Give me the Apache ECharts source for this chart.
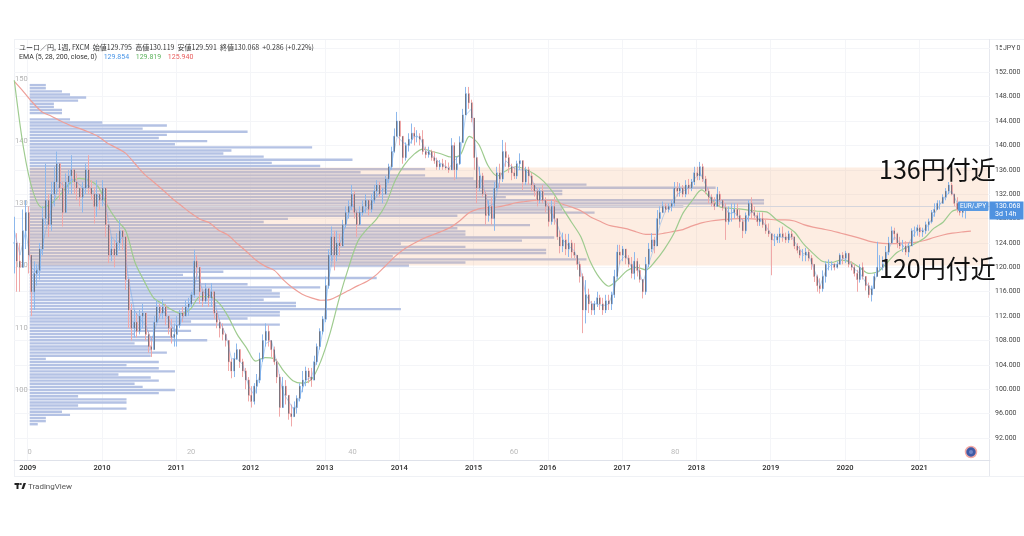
<!DOCTYPE html>
<html>
<head>
<meta charset="utf-8">
<style>html,body{margin:0;padding:0;background:#fff}#chart{width:1024px;height:536px}#chart canvas{filter:blur(0.45px)}</style>
<script src="https://cdn.jsdelivr.net/npm/echarts@6/dist/echarts.min.js"></script>
</head>
<body>
<div id="chart"></div>
<script>
// candle readings, one every two weeks from late 2008
const candleStart = 2008.82;
const candlesPerYear = 26;
const closes = [124,121,120,126,129,122,116,119,119.5,123,
128,131,127,132,134,137,133,129,134,135,
136,134,133,131.5,133,136,133,132,130,132,
131,133,127,122,123,122,124,126,125,118,
113,110,111,109.5,112,112.5,109,107,106.5,111,
113.5,112.5,113.5,112,110,108.5,109,110.5,112.5,112,
113.5,114,115.5,121,120,116,114.5,116.5,115,116,
112.5,111,110,109,108,104.5,103,105,106.5,104.5,
103,101.5,99,98,100.5,101.5,105,108,109.5,108,
106.5,104.5,102,97,100.5,99,96,95.5,97,98.5,
100.5,101.5,103,102,101.5,104.5,107,109.5,111.5,117,
122,125,122,124,123.5,127,129,130,132,129,
127,129,130,131,129.5,131,132.5,133.5,132,132,
134.5,136.5,139,141.5,144,141.5,138,140,141,142,
141.5,141.5,141,139,138.5,139,138,137.5,136.5,137,
136.5,136.3,136,140,136,137,140.5,145,148.5,147,
144.5,138,133,135,132,128.5,130,128,133,135.5,
134.5,139,138,136.5,135.5,135,137,137.5,134,136,
135,133.5,132.5,131,132.5,131,130,127.5,130,128,
125,123.5,124.5,123,124,122.5,122,120.5,118.5,113,
115.5,114,113,114,115,114,113,114.5,114,115.5,
118.5,122.5,122,123,121.5,120.5,119,121,119.5,118,
116,120.5,123,124.5,123.5,128,129,130,129.5,130,
130.5,133,132.5,133,132,133.5,133,134,135.5,135,
136.5,134.5,132.5,131.5,130.5,130,132,131,129.8,127.5,
129,129,129.5,128.5,127.5,126,128.5,130.5,129,128.5,
127.5,128,127,126,125.5,124.5,124.5,125,125.5,125,
124.5,125.5,125,123.5,122.8,122,122,122.5,121.5,120.5,
118.5,117,116.5,118.5,120.5,120.5,120.5,120,120.5,122,
121.5,122.3,120.5,120,119,118,120,118.5,117,115.5,
116.5,118.5,120,120,120.5,122.5,124,126,125.5,124,
123.5,123.5,122.5,123.5,126,126,126.5,125.8,126,127,
127.5,129,129.5,130.5,130.5,131.5,132.5,133.5,132,130.5,
129.5,129,129.5,129.8,130.07];
const highs = [128.3,125.6,124,129.5,131,130,122,121,120.5,124,
130,137,132,134,136.5,139,137,134,135.4,136,
138.4,135.4,135.4,133,134,137,138.4,134.3,133.2,134.3,
132.1,134.3,131,126.7,125,124.5,125.6,127.8,125.6,125,
117.4,114,113,112.5,113,114,112,109.5,108.6,112,
114.6,114,114.8,114,112,111.5,110.8,112,113,113.5,
114.6,115,116,122.9,122,120,116.5,117.4,116.5,117.4,
116,113,111.5,110.8,109.2,108,105,106,107.5,106.5,
105,103.5,102,100.5,101,102.5,106,109,110.8,110.5,
108,107,105,102.5,102,101.5,99,97.5,98,99,
101,103,103.7,103.5,103.5,105.5,107.5,110,112,118.5,
123,126.7,126,126,125.5,127.8,130,131,133.5,132.5,
129.4,130,131,132,131,132,133.5,134.3,134,133,
135,137,139.8,142.8,145.5,144,141.5,140.5,142,143.6,
143,142.5,142,142.5,139.8,139.8,139.3,139,138,137.6,
137.8,137.6,137.2,141.2,140.5,138.2,141.5,146,149.6,149.6,
147.5,144.5,138,136.5,135.5,132.5,131,131.5,134,136.5,
137,140.9,140.5,138.5,137,136.5,137.5,138.7,137.5,136.5,
136.5,135.5,133.8,133,133,133.5,131.5,130.5,131,131.6,
128,126,125.7,125.5,125.5,124.5,124,122,121,119,
117.9,116.5,114.5,114.5,116,115.5,115,115.5,115.5,116,
119.6,123.7,123.7,123.5,123,122,121.7,122.5,121.5,120.5,
118,121.7,124,125.6,125,129.4,130,130.8,130.5,130.5,
131,134,134,133.8,133.5,134.3,134.5,134.5,136.5,136.5,
137.3,137,135,133,132,131.5,133.2,132.5,131,130.5,
130,130.5,130.5,130.5,129.5,128,129,131,131.5,130,
129,129,129,127.8,127.2,125.5,125.5,125.5,126.5,126.7,
125.7,126,126,125,124,123.5,123,123.2,123,122,
120.5,118.8,118.2,119.5,121,121.3,121,120.7,121,122.3,
122.5,122.7,122,121,120.5,119.6,120.5,120.8,118.5,117.5,
117,119,124.2,122,121.8,123.5,125,126.7,126.5,125.7,
125,124.5,124.3,124,126.4,126.7,127,127,126.5,127.5,
128,129.4,130.5,131,131,132,133,134,133.9,132.1,
131.5,130.5,130,130,130.12];
const lows = [119,116,116,120,123,119,112,113,117,118,
122,127,125,126,130,132,131,126.7,129,132,
132,132,131,130,129,132,132,131,127.2,128.3,
129.4,130,125,120.7,121,120,122.3,122.8,122.8,116.3,
110,108,108.5,108.5,109,110,108,106,105.3,106.5,
111,111.5,111.5,110.5,109,107.5,107,107,110,111,
112,112,113.5,115,118,114,113.5,114,113.5,113.5,
111.5,110,108.5,108,107,103,101.8,102,104.8,103.5,
102,100,98,97,97.5,99.3,101,104.5,107,107,
105.3,104,101,95.5,97,97.5,95,93.9,95.5,96,
98,99.5,100.5,101,100.4,101.5,104,106.5,109,111,
116.5,121,119.5,121,122,123.4,126.5,128,129.4,128,
125,127,128.5,128.9,128.5,129,130.5,131.6,131.5,130.5,
132,133.8,136,138.8,141.5,140,137,137.5,139,140.3,
140,140.5,140,138.5,137.9,138,137.5,137,136,136,
136,136,135.5,136,134.3,134.5,136.8,140.4,145,146,
143.8,136,130.5,132.5,131.5,127,127.5,127,126,132.5,
133,134,136.5,135.5,134.3,134.5,134.5,136,132.7,133.5,
133.5,132.5,131.6,130,130.5,130.5,129,126.7,127,127,
124.5,122.3,122.5,122,121.7,121.5,121.5,119.6,117.5,109.2,
110.8,112.5,112.2,112.2,113.5,113,112.2,112.5,113,113,
115,118,120.5,121,120.5,120,118.2,118,118.5,117.5,
114.9,115.5,120,122.5,122.3,123.5,127,128.9,129,129,
129.2,130,131.6,131.6,131.5,131.5,132,132.5,133.5,134.3,
134.3,134,132,130.5,130,129.4,130,130,129.3,124.5,
127,127.5,128,128,126.5,124.8,125.5,127.5,128,128,
126.8,126.8,126.5,125.5,125,118.7,123.5,124,124,124.2,
124,124,124.5,123,122.3,121.5,121,121,121,119.6,
117.6,116,115.7,116,117.5,119.5,119.5,119.5,119.8,120.5,
120.5,120.7,120,119.5,118.5,116,117.5,118,116.2,115,
114.4,116.5,118.5,119.3,119.5,120,122,124,124.5,123.2,
123,122.5,122,121.7,123.5,125,125.2,125,125,125.5,
126,127.2,128.3,129.4,129.5,130.5,131,132,131.8,130,
129,128.5,128.2,128,129.59];

// EMA 5, read every four weeks
const ema5PerYear = 13;
const ema5 = [126,122,126,120,119,124,128,131,134,133,
134.5,134,133,133.5,132,131.5,130,125,124,125,
118,113,111.5,110.5,108,111,113,111.5,109.5,111,
112.5,114.5,119,116,115.5,114.5,111,109,105,105,
104,100.5,99,102.5,107.5,108,104,99.5,98,96.5,
99,101.5,102,105,109.5,118,123,124,127,130.5,
129,129,130,131,132.5,133,137,141.5,140.5,140,
141.5,141.3,139,138.5,137.5,136.8,136.2,137.5,138.5,145,
146,137,133.5,130,130.5,134.5,137.5,136.5,136,136,
135.5,133.5,132,130.5,129,127,124.5,123.5,122.7,120,
115.5,114,114,113.7,114,116.5,121,122,120,120,
117.5,120.5,123.5,127,129.5,130,132,132.5,133,134.5,
135.5,133.5,131,131,130.5,128.8,129,128,127.5,129.3,
128,127.5,126,125,125,124.8,125,123.5,122.3,122,
119.5,117,119.5,120.5,120.4,121.5,121,119.7,119,117.5,
116.2,119,120.2,123,125,124,123,124.8,126.2,126,
127,128.8,130.3,131.8,132.5,130.5,129.4,129.854];
// EMA 28 and EMA 200, read every eighth of a year
const emaPerYear = 8;
const ema28 = [150.7,139.5,132.5,129.8,130.5,132,133.8,134.6,134.3,133.3,
130.2,127.8,126,120.8,117.7,115,114,113,112.4,113.2,
115.2,115.2,114.2,112,109,106.8,104.6,105.2,105,103,
101.4,101,101.6,104.6,109.2,115,120,124.3,126.3,127.9,
130.3,134.2,136.8,138.5,139.4,139,138.6,138.1,138.4,141.5,
140.2,136.7,135,135.9,136.5,136.1,135.3,134.1,132.3,129.8,
127.4,125,121,118.3,116.9,118,119.5,120,119.6,121,
123,125.5,128.9,131,132.7,131.3,129.9,129.7,129.6,129.4,
129.2,129.1,127.9,126.9,125.8,123.8,122.3,121,120.8,121.2,
120.9,120,119,119.3,120.8,122.4,123.2,123.9,124.8,126.4,
127.4,129.2,129.6,129.82];
const ema200 = [150.5,148.8,147,145.5,144.8,144,143.3,142.8,142.2,141.5,
140.4,139.6,138.7,137,135.3,134,132.7,131.3,130.1,128.9,
127.9,127.3,126.1,125.3,123.9,122.6,121.2,120.2,119.5,117.9,
116.6,115.6,115,114.6,114.7,115.4,116.2,117,117.7,118.8,
120.3,121.8,123,123.9,124.7,125.3,125.9,126.6,127.7,129,
129.6,129.8,129.9,130.2,130.6,130.8,131,131,131,130.4,
129.9,129.3,128.3,127.6,126.9,126.6,126.3,125.8,125.4,125.4,
125.6,125.9,126.2,126.8,127.3,127.6,127.8,127.9,128,128,
127.9,127.9,127.8,127.8,127.6,127,126.6,126.3,126,125.6,
125.2,124.8,124.3,124,123.9,123.9,124,124.1,124.4,124.9,
125.3,125.6,125.8,125.94];

// volume profile, rows 0.5 yen apart going down from 149
const profileTop = 149;
const profileVolumes = [2,2,4,5,7,6,3,3,4,4,
0,5,9,17,14,27,17,16,22,18,
35,25,24,29,40,30,36,49,41,49,
55,58,69,85,66,66,59,91,91,81,
66,70,53,32,29,62,53,54,54,65,
61,46,54,64,64,45,69,54,47,37,
24,19,43,21,27,36,30,31,31,29,
33,33,46,31,31,27,20,31,18,20,
13,18,22,13,15,15,17,15,2,16,
12,16,18,11,15,16,13,14,18,16,
6,12,12,6,12,4,5,2,2,1];

const yearTicks = [2009,2010,2011,2012,2013,2014,2015,2016,2017,2018,2019,2020,2021];
const priceTicks = [92,96,100,104,108,112,116,120,124,128,132,136,140,144,148,152,156];
const volumeTicks = [0,20,40,60,80];
const profilePriceLabels = [100,110,120,130,140,150];
const lastPrice = 130.068;
const rangeBand = [120.3, 136.4];

const FONT = 'Roboto, "Noto Sans CJK JP", sans-serif';
const JP = '"Noto Sans CJK JP", sans-serif';

// left price scale of the profile: one category per half yen
const rowCategories = [];
for (let p = 156; p >= 89; p -= 0.5) rowCategories.push(String(p));
const rowOffset = rowCategories.indexOf(String(profileTop));
const rowData = rowCategories.map((c, k) => {
  const v = profileVolumes[k - rowOffset];
  return v ? v : null;
});

const wickData = [];
const bodyData = [];
closes.forEach((c, i) => {
  const t = candleStart + i / candlesPerYear;
  const o = i === 0 ? c : closes[i - 1];
  wickData.push([t, o, c, lows[i], highs[i]]);
  bodyData.push([t, o, c, Math.min(o, c), Math.max(o, c)]);
});
const lineData = (values, perYear) => values.map((v, i) => [candleStart + i / perYear, v]);

const chart = echarts.init(document.getElementById('chart'));

const frameLine = (x1, y1, x2, y2, color) => ({
  type: 'line', silent: true, z: 0,
  shape: { x1, y1, x2, y2 },
  style: { stroke: color || '#eff1f5', lineWidth: 1 }
});
const plainText = (x, y, text, fontSize, fill, extra) => ({
  type: 'text', silent: true, z: 100, x, y,
  style: Object.assign({ text, fontSize, fill, fontFamily: FONT, verticalAlign: 'middle' }, extra || {})
});

const option = {
  animation: false,
  backgroundColor: '#fff',
  grid: { left: 14, top: 40, width: 976, height: 420, containLabel: false },
  xAxis: [
    {
      type: 'value', min: 2008.816, max: 2021.952, position: 'bottom',
      axisLine: { show: true, onZero: false, lineStyle: { color: '#dfe2ea' } },
      axisTick: { show: false, customValues: yearTicks },
      axisLabel: {
        customValues: yearTicks, color: '#2a2a2a', fontSize: 7.5, fontFamily: FONT, fontWeight: 500, margin: 4,
        formatter: v => String(Math.round(v))
      },
      splitLine: { show: true, lineStyle: { color: '#f4f5f8' } }
    },
    {
      type: 'value', min: -1.945, max: 119, position: 'bottom',
      axisLine: { show: false },
      axisTick: { show: false, customValues: volumeTicks },
      axisLabel: { customValues: volumeTicks, inside: true, margin: 4, color: '#bbb', fontSize: 7.5, fontFamily: FONT },
      splitLine: { show: false }
    }
  ],
  yAxis: [
    {
      type: 'category', data: rowCategories, inverse: true, position: 'left',
      axisLine: { show: false }, axisTick: { show: false },
      axisLabel: {
        inside: true, margin: 1, color: '#b4b4b4', fontSize: 7.5, fontFamily: FONT,
        interval: (i, v) => profilePriceLabels.includes(Number(v))
      },
      splitLine: { show: false }
    },
    {
      type: 'value', min: 88.39, max: 157.3, position: 'right',
      axisLine: { show: false },
      axisTick: { show: false, customValues: priceTicks },
      axisLabel: {
        customValues: priceTicks, color: '#444', fontSize: 7, fontFamily: FONT, margin: 5,
        formatter: v => v.toFixed(3)
      },
      splitLine: { show: true, lineStyle: { color: '#f4f5f8' } }
    }
  ],
  series: [
    {
      name: 'profile', type: 'bar', xAxisIndex: 1, yAxisIndex: 0, z: 1,
      data: rowData, barWidth: 2.4,
      itemStyle: { color: '#b4c2e4' }
    },
    {
      name: 'band', type: 'line', xAxisIndex: 0, yAxisIndex: 1, data: [], z: 2,
      markArea: {
        z: 2, silent: true,
        itemStyle: { color: 'rgba(245,175,125,0.22)' },
        data: [[{ xAxis: 2009.03, yAxis: rangeBand[1] }, { xAxis: 2021.925, yAxis: rangeBand[0] }]]
      },
      markLine: {
        z: 2, silent: true, symbol: 'none', label: { show: false },
        lineStyle: { color: '#d5d5dc', width: 1, type: 'solid' },
        data: [{ yAxis: lastPrice }]
      }
    },
    {
      name: 'EMA200', type: 'line', xAxisIndex: 0, yAxisIndex: 1, z: 3, symbol: 'none', smooth: 0.3,
      data: lineData(ema200, emaPerYear), lineStyle: { color: '#ee9f98', width: 1.2 }
    },
    {
      name: 'EMA28', type: 'line', xAxisIndex: 0, yAxisIndex: 1, z: 3, symbol: 'none', smooth: 0.3,
      data: lineData(ema28, emaPerYear), lineStyle: { color: '#9ecb8f', width: 1.2 }
    },
    {
      name: 'wicks', type: 'candlestick', xAxisIndex: 0, yAxisIndex: 1, z: 4, barWidth: 1.5,
      data: wickData,
      itemStyle: { color: '#8db8ec', color0: '#f0a8a8', borderColor: '#8db8ec', borderColor0: '#f0a8a8', borderWidth: 1 }
    },
    {
      name: 'EMA5', type: 'line', xAxisIndex: 0, yAxisIndex: 1, z: 5, symbol: 'none',
      data: lineData(ema5, ema5PerYear), lineStyle: { color: '#6ea6e6', width: 0.8, opacity: 0.6 }
    },
    {
      name: 'bodies', type: 'candlestick', xAxisIndex: 0, yAxisIndex: 1, z: 6, barWidth: 1,
      data: bodyData,
      itemStyle: { color: '#686b75', color0: '#686b75', borderColor: '#686b75', borderColor0: '#686b75', borderWidth: 1, opacity: 0.85 }
    }
  ],
  graphic: [
    frameLine(14, 39.5, 1024, 39.5),
    frameLine(14, 476.5, 1024, 476.5),
    frameLine(14.5, 39, 14.5, 476),
    frameLine(989.5, 39, 989.5, 476, '#e6e8ee'),
    plainText(19, 47, 'ユーロ／円, 1週, FXCM  始値129.795  高値130.119  安値129.591  終値130.068  +0.286 (+0.22%)', 7, '#333', { fontFamily: JP }),
    {
      type: 'text', silent: true, z: 100, x: 19, y: 57,
      style: {
        text: '{a|EMA (5, 28, 200, close, 0)}  {b|129.854}  {c|129.819}  {d|125.940}',
        verticalAlign: 'middle',
        rich: {
          a: { fontSize: 7, fill: '#333', fontFamily: FONT },
          b: { fontSize: 7, fill: '#4a96e8', fontFamily: FONT },
          c: { fontSize: 7, fill: '#5cb25c', fontFamily: FONT },
          d: { fontSize: 7, fill: '#e85c5c', fontFamily: FONT }
        }
      }
    },
    plainText(1002, 48, 'JPY', 7, '#444', { backgroundColor: '#fff', padding: [1, 1] }),
    plainText(879, 169.5, '136円付近', 25, '#111', { fontFamily: JP }),
    plainText(879, 268.5, '120円付近', 25, '#111', { fontFamily: JP }),
    { type: 'rect', silent: true, z: 90, shape: { x: 958, y: 201.5, width: 30.5, height: 9.5, r: 1 }, style: { fill: '#5a9ae2' } },
    { type: 'rect', silent: true, z: 90, shape: { x: 989.5, y: 201.5, width: 34, height: 18 }, style: { fill: '#4f92e0' } },
    plainText(973, 206.5, 'EUR/JPY', 6.5, '#fff', { align: 'center' }),
    plainText(995, 206.5, '130.068', 7, '#fff'),
    plainText(995, 214.5, '3d 14h', 7, '#fff'),
    { type: 'circle', silent: true, z: 90, shape: { cx: 971, cy: 452, r: 5.5 }, style: { fill: '#3e5aa6', stroke: '#f3a9a5', lineWidth: 1.5 } },
    { type: 'circle', silent: true, z: 91, shape: { cx: 971, cy: 452, r: 2 }, style: { fill: '#6f86c8' } },
    // TradingView mark
    { type: 'rect', silent: true, z: 90, shape: { x: 14.5, y: 483, width: 5, height: 2 }, style: { fill: '#222' } },
    { type: 'rect', silent: true, z: 90, shape: { x: 16.5, y: 483, width: 2, height: 6 }, style: { fill: '#222' } },
    { type: 'circle', silent: true, z: 90, shape: { cx: 20.8, cy: 484, r: 1 }, style: { fill: '#222' } },
    { type: 'polygon', silent: true, z: 90, shape: { points: [[21.5, 489], [23.5, 483], [26, 483], [23.8, 489]] }, style: { fill: '#222' } },
    plainText(28, 486.5, 'TradingView', 8, '#555')
  ]
};
chart.setOption(option);
</script>
</body>
</html>
